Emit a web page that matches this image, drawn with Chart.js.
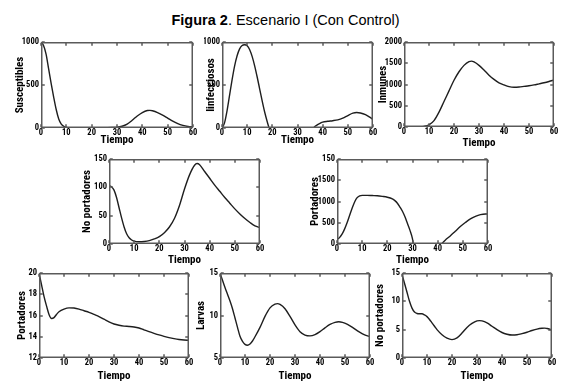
<!DOCTYPE html>
<html><head><meta charset="utf-8">
<script src="https://cdn.jsdelivr.net/npm/chart.js@4.4.1/dist/chart.umd.min.js"></script>
<style>
html,body{margin:0;padding:0;background:#fff;width:580px;height:385px;overflow:hidden;position:relative;}
canvas{position:absolute;}
#title{position:absolute;left:0;width:571px;top:12px;text-align:center;font-family:"Liberation Sans",Arial,sans-serif;font-size:14.5px;color:#000;line-height:17px;white-space:nowrap;}
</style></head><body>
<div id="title"><b>Figura 2</b>. Escenario I (Con Control)</div>
<script>
// ---- Data ----
const xTicks = [0, 10, 20, 30, 40, 50, 60];

const tSusceptibles = [0,1,2,3,4,5,6,7,8,9,10,12,15,20,25,28,30,32,34,36,38,40,42,43,44,46,48,50,52,54,56,58,60];
const susceptibles  = [1000,960,860,690,520,360,215,105,45,18,8,4,3,3,3,5,8,20,45,90,140,180,203,205,200,180,150,115,80,50,30,18,12];

const tInfecciosos = [0,1,2,3,4,5,6,7,8,9,10,11,12,13,14,15,16,17,18,18.7,27,36.3,37,38,39,40,42,44,46,48,50,52,53.5,55,57,59,60];
const infecciosos  = [0,60,200,380,560,720,840,920,960,968,955,910,830,720,590,450,310,180,70,0,null,0,20,40,55,68,78,85,95,115,145,172,180,175,155,120,100];

const tInmunes = [0,2,4,6,8,10,12,14,16,18,20,22,24,26,27,28,30,32,34,36,38,40,42,44,46,48,50,52,54,56,58,60];
const inmunes  = [0,0,2,5,15,50,150,350,600,850,1100,1300,1450,1540,1550,1530,1450,1340,1220,1120,1040,990,950,935,940,955,970,990,1015,1040,1070,1105];

const tNoPortadoresA = [0,1,2,3,4,5,6,7,8,9,10,12,14,16,18,20,22,24,26,28,30,32,34,35,36,38,40,42,44,46,48,50,52,54,56,58,60];
const noPortadoresA  = [103,101,95,82,64,46,30,18,11,7,5,4,4.5,6,9,13,20,30,45,68,97,122,139,142,140,128,116,104,93,82,72,62,53,45,38,32,29];

const tPortadoresA = [0,1,2,3,4,5,6,7,8,9,10,12,14,16,18,20,22,23,24,25,26,27,28,29,30,30.3,36,41.5,43,45,47,49,51,53,55,57,59,60];
const portadoresA  = [110,150,230,350,500,670,840,990,1090,1135,1145,1145,1140,1135,1120,1100,1060,1020,960,870,770,640,480,320,120,0,null,0,90,190,300,410,505,590,650,690,705,705];
const portadoresATickLabels = ["0","500","1000","1500","150"];

const tPortadoresB = [0,1,2,3,4,5,6,7,8,10,12,14,16,18,20,22,24,26,28,30,32,34,36,38,40,42,44,46,48,50,52,54,56,58,60];
const portadoresB  = [20,18.9,17.8,16.9,16.1,15.72,15.8,16.1,16.35,16.6,16.72,16.7,16.6,16.45,16.3,16.1,15.9,15.65,15.4,15.2,15.08,15.0,14.97,14.92,14.82,14.65,14.48,14.32,14.17,14.04,13.92,13.82,13.74,13.69,13.67];

const tLarvas = [0,1,2,3,4,5,6,7,8,9,10,11,12,13,14,16,18,20,22,23,24,26,28,30,32,34,36,38,40,42,44,46,47.5,49,51,53,55,57,59,60];
const larvas  = [15,14.15,13.3,12.5,11.7,10.8,9.7,8.6,7.55,6.95,6.6,6.5,6.65,7.0,7.5,8.6,9.9,10.9,11.35,11.4,11.3,10.8,9.9,8.9,8.1,7.7,7.6,7.75,8.1,8.55,8.95,9.2,9.27,9.2,8.95,8.6,8.2,7.85,7.6,7.55];

const tNoPortadoresB = [0,1,2,3,4,5,6,7,8,9,10,11,12,13,14,16,18,20,22,24,26,28,30,31,32,34,36,38,40,42,44,46,48,50,52,54,56,57,58,60];
const noPortadoresB  = [14.7,13.2,11.6,10.0,8.8,8.1,7.85,7.8,7.8,7.6,7.3,6.8,6.2,5.6,5.0,4.1,3.5,3.25,3.55,4.4,5.4,6.1,6.55,6.6,6.55,6.2,5.6,5.0,4.5,4.2,4.05,4.1,4.3,4.55,4.85,5.1,5.25,5.28,5.2,4.95];

// ---- Layout (pixel geometry of each panel) ----
const panels = [
  {L:41, T:42, R:193, B:128, yTx:20.7, xTy:140.5, t:tSusceptibles, v:susceptibles, min:0, max:1000, step:500, ylab:'Susceptibles'},
  {L:222,T:42, R:373, B:128, yTx:211,  xTy:140.5, t:tInfecciosos, v:infecciosos, min:0, max:1000, step:500, ylab:'Iinfecciosos'},
  {L:404,T:42, R:554, B:127, yTx:383.3,xTy:143.5, t:tInmunes, v:inmunes, min:0, max:2000, step:500, ylab:'Inmunes'},
  {L:109,T:159,R:260, B:244, yTx:87.3, xTy:260, t:tNoPortadoresA, v:noPortadoresA, min:0, max:150, step:50, ylab:'No portadores'},
  {L:337,T:159,R:488, B:244, yTx:315,  xTy:260, t:tPortadoresA, v:portadoresA, min:0, max:2000, step:500, ylab:'Portadores', labels:portadoresATickLabels},
  {L:39, T:273,R:189, B:358, yTx:22.7, xTy:376.5, t:tPortadoresB, v:portadoresB, min:12, max:20, step:2, ylab:'Portadores'},
  {L:220,T:273,R:370, B:358, yTx:201,  xTy:376, t:tLarvas, v:larvas, min:5, max:15, step:5, ylab:'Larvas'},
  {L:402,T:273,R:552, B:358, yTx:380.7,xTy:376, t:tNoPortadoresB, v:noPortadoresB, min:0, max:15, step:5, ylab:'No portadores'}
];

const FAM = '"Roboto Condensed","Liberation Sans",Arial,sans-serif';
const tickFont = {family:FAM, size:8.5, weight:'bold'};
const titleFont = {family:FAM, size:11, weight:'bold'};
const FRAME = '#5a5a5a';
const PADT = 10, PADR = 12;

// box frame with inward tick marks on all four sides (MATLAB style)
const framePlugin = {
  id:'boxframe',
  afterDraw(chart){
    const ctx = chart.ctx, a = chart.chartArea, sx = chart.scales.x, sy = chart.scales.y;
    ctx.save();
    ctx.setTransform(1,0,0,1,0,0);
    ctx.strokeStyle = FRAME;
    ctx.lineWidth = 1.5;
    const l = Math.round(a.left)+0.75, r = Math.round(a.right)-0.75, t = Math.round(a.top)+0.75, b = Math.round(a.bottom)-0.75;
    ctx.strokeRect(l, t, r-l, b-t);
    ctx.beginPath();
    const tl = 3;
    sx.ticks.forEach(tk => {
      const px = Math.round(sx.getPixelForValue(tk.value));
      ctx.moveTo(px, b); ctx.lineTo(px, b-tl);
      ctx.moveTo(px, t); ctx.lineTo(px, t+tl);
    });
    sy.ticks.forEach(tk => {
      const py = Math.round(sy.getPixelForValue(tk.value));
      ctx.moveTo(l, py); ctx.lineTo(l+tl, py);
      ctx.moveTo(r, py); ctx.lineTo(r-tl, py);
    });
    ctx.stroke();
    ctx.restore();
  }
};

panels.forEach(p => {
  const left = Math.round(p.yTx - 6.6);
  const top = p.T - PADT;
  const width = p.R + PADR - left;
  const bottom = Math.round(p.xTy + 6.6);
  const height = bottom - top;
  const c = document.createElement('canvas');
  c.width = width; c.height = height;
  c.style.left = left + 'px'; c.style.top = top + 'px';
  c.style.width = width + 'px'; c.style.height = height + 'px';
  document.body.appendChild(c);
  const yW = p.L - left;
  const xH = bottom - p.B;
  const xTitlePad = Math.max(0, (bottom - p.xTy) - 6.6);
  const yTitlePad = Math.max(0, (p.yTx - left) - 6.6);
  new Chart(c, {
    type:'line',
    data:{datasets:[{
      data: p.t.map((x,i) => ({x:x, y:p.v[i]})),
      borderColor:'#1e1e1e', borderWidth:1.4, pointRadius:0,
      cubicInterpolationMode:'monotone', spanGaps:false, fill:false
    }]},
    options:{
      responsive:false, animation:false, devicePixelRatio:1,
      layout:{padding:{top:PADT, right:PADR, left:0, bottom:0}},
      plugins:{legend:{display:false}, tooltip:{enabled:false}},
      scales:{
        x:{type:'linear', min:0, max:60,
           afterBuildTicks(s){ s.ticks = xTicks.map(v => ({value:v})); },
           afterFit(s){ s.height = xH; },
           grid:{display:false, drawTicks:false}, border:{display:false},
           ticks:{font:tickFont, color:'#000', padding:0, maxRotation:0, autoSkip:false},
           title:{display:true, text:'Tiempo', font:titleFont, color:'#000', padding:{top:0,bottom:xTitlePad}}},
        y:{type:'linear', min:p.min, max:p.max,
           afterFit(s){ s.width = yW; },
           grid:{display:false, drawTicks:false}, border:{display:false},
           ticks:{stepSize:p.step, font:tickFont, color:'#000', padding:2, autoSkip:false,
             callback:(v) => p.labels ? p.labels[Math.round((v - p.min)/p.step)] : String(v)},
           title:{display:true, text:p.ylab, font:titleFont, color:'#000', padding:{top:yTitlePad,bottom:0}}}
      }
    },
    plugins:[framePlugin]
  });
});
</script>
</body></html>
